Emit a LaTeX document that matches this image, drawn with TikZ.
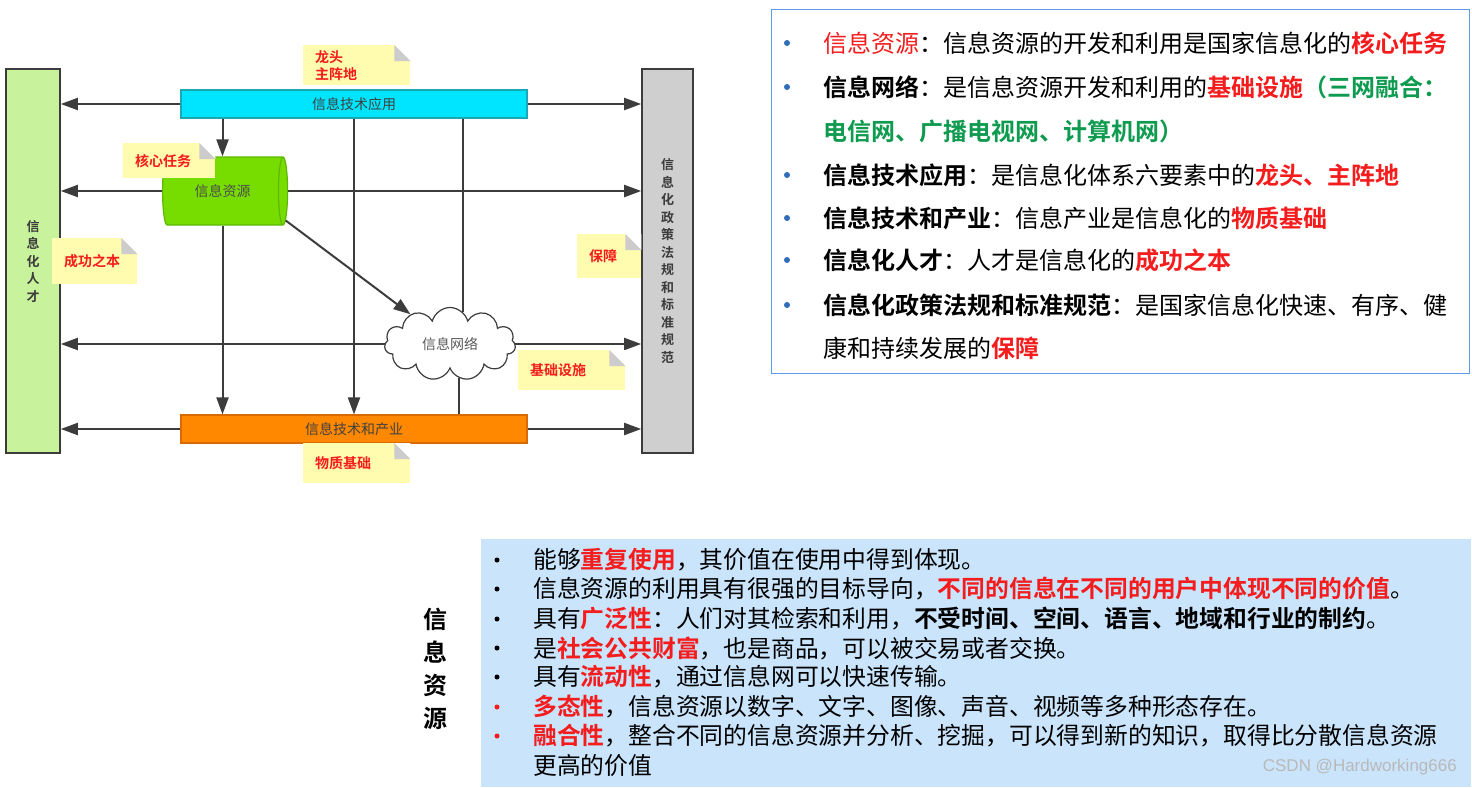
\documentclass[tikz,border=0pt]{standalone}
\usepackage{fontspec}
\setmainfont{Noto Sans CJK SC}[BoldFont={Noto Sans CJK SC Bold}]
\newfontfamily\wmfont{Liberation Sans}
\usetikzlibrary{shapes.geometric,shapes.symbols,arrows.meta,positioning}
\definecolor{barcyan}{HTML}{00E5FF}
\definecolor{cyanedge}{HTML}{1AA7B8}
\definecolor{barorange}{HTML}{FF8800}
\definecolor{orangeedge}{HTML}{D96A00}
\definecolor{talentgreen}{HTML}{C8F29C}
\definecolor{policygray}{HTML}{CFCFCF}
\definecolor{cylgreen}{HTML}{77DD00}
\definecolor{cyledge}{HTML}{5DB800}
\definecolor{noteyellow}{HTML}{FFFBAF}
\definecolor{foldgray}{HTML}{CCCCCC}
\definecolor{linegray}{HTML}{3C3C3C}
\definecolor{hired}{HTML}{F41C1C}
\definecolor{higreen}{HTML}{0E9B4F}
\definecolor{bulletblue}{HTML}{2E6DB8}
\definecolor{boxedge}{HTML}{5B9BE8}
\definecolor{boxblue}{HTML}{C9E4FB}
\newcommand{\redkey}[1]{\textcolor{hired}{\bfseries #1}}
\newcommand{\greenkey}[1]{\textcolor{higreen}{\bfseries #1}}

\begin{document}
\begin{tikzpicture}[x=1pt, y=-1pt,
  vbar/.style={draw=linegray, line width=1.6pt, minimum width=54pt, minimum height=384pt, inner sep=0pt, font=\fontsize{13}{17.5}\selectfont\bfseries, text=linegray, align=center},
  hbar/.style={line width=1.2pt, minimum width=346pt, minimum height=28pt, inner sep=0pt, font=\fontsize{14}{16}\selectfont, text=black!75},
  link/.style={draw=linegray, line width=2pt},
  arr/.style={link, -{Triangle[length=17pt, width=12pt]}},
  note/.style={fill=noteyellow, anchor=north west, inner xsep=12pt, inner ysep=2pt, align=left, text=hired, font=\fontsize{14}{17}\selectfont\bfseries},
  item/.style={anchor=west, inner sep=0pt, font=\fontsize{24}{28}\selectfont},
  feat/.style={anchor=west, inner sep=0pt, font=\fontsize{23.8}{28}\selectfont},
  dot/.style={circle, fill, inner sep=0pt, minimum size=5pt},
]
  \useasboundingbox (0,0) rectangle (1472,787);

  % Side bars
  \node[vbar, fill=talentgreen] (talent) at (33,261) {信\\息\\化\\人\\才};
  \node[vbar, fill=policygray, minimum width=51pt] (policy) at (667.5,261) {信\\息\\化\\政\\策\\法\\规\\和\\标\\准\\规\\范};

  % Middle blocks
  \node[hbar, fill=barcyan, draw=cyanedge] (app) at (354,104) {信息技术应用};
  \node[hbar, fill=barorange, draw=orangeedge] (ind) at (354,429) {信息技术和产业};
  \node[cylinder, draw=cyledge, line width=1.2pt, fill=cylgreen, minimum width=68pt, minimum height=125pt, shape aspect=0.7, inner sep=0pt, font=\fontsize{14}{16}\selectfont, text=black!70] (res) at (222.5,191) {信息资源};
  \node[cloud, draw=linegray, line width=1.2pt, fill=white, cloud puffs=11, aspect=1.8, minimum width=131pt, minimum height=73pt, inner sep=0pt, font=\fontsize{14}{16}\selectfont, text=black!65] (net) at (450,344) {信息网络};

  % Arrows to the talent bar
  \draw[arr] (app.west) -- (app.west -| talent.east);
  \draw[arr] (res.west) -- (res.west -| talent.east);
  \draw[arr] (net.west) -- (net.west -| talent.east);
  \draw[arr] (ind.west) -- (ind.west -| talent.east);

  % Arrows to the policy bar
  \draw[arr] (app.east) -- (app.east -| policy.west);
  \draw[arr] (res.east) -- (res.east -| policy.west);
  \draw[arr] (net.east) -- (net.east -| policy.west);
  \draw[arr] (ind.east) -- (ind.east -| policy.west);

  % Inner links
  \draw[arr] (app.south -| res.north) -- (res.north);
  \draw[arr] (res.south) -- (res.south |- ind.north);
  \draw[arr] (app.south) -- (ind.north);
  \draw[arr] (res.-25) -- (net);
  \draw[link] (app.south -| net.68) -- (net.68);
  \draw[link] (net.-75) -- (net.-75 |- ind.north);

  % Notes
  \node[note, text width=83pt, minimum height=40pt] (nHead) at (303,45) {龙头\\主阵地};
  \node[note, text width=68pt, minimum height=35pt] (nCore) at (123,143) {核心任务};
  \node[note, text width=61pt, minimum height=46pt] (nTalent) at (52,238) {成功之本};
  \node[note, text width=40pt, minimum height=44pt] (nGuard) at (577,234) {保障};
  \node[note, text width=83pt, minimum height=40pt] (nInfra) at (518,350) {基础设施};
  \node[note, text width=83pt, minimum height=40pt] (nMatter) at (303,443) {物质基础};
  \foreach \n in {nHead,nCore,nTalent,nGuard,nInfra,nMatter} {
    \fill[white] (\n.north east) -- +(-16,0) -- +(0,16) -- cycle;
    \fill[foldgray] (\n.north east) ++(-16,0) -- +(0,16) -- +(16,16) -- cycle;
  }

  % Key box
  \node[draw=boxedge, line width=1.4pt, minimum width=698pt, minimum height=364pt, anchor=north west, inner sep=0pt] (keybox) at (771,9) {};
  \foreach \y in {43,87,175,218,260,305}
    \node[dot, fill=bulletblue, minimum size=6pt] at (787,\y) {};
  \node[item] (k1) at (823,43) {\textcolor{hired}{信息资源}：信息资源的开发和利用是国家信息化的\redkey{核心任务}};
  \node[item] (k2) at (823,87) {\textbf{信息网络}：是信息资源开发和利用的\redkey{基础设施}\greenkey{（三网融合：}};
  \node[item] (k3) at (823,131) {\greenkey{电信网、广播电视网、计算机网）}};
  \node[item] (k4) at (823,175) {\textbf{信息技术应用}：是信息化体系六要素中的\redkey{龙头、主阵地}};
  \node[item] (k5) at (823,218) {\textbf{信息技术和产业}：信息产业是信息化的\redkey{物质基础}};
  \node[item] (k6) at (823,260) {\textbf{信息化人才}：人才是信息化的\redkey{成功之本}};
  \node[item] (k7) at (823,305) {\textbf{信息化政策法规和标准规范}：是国家信息化快速、有序、健};
  \node[item] (k8) at (823,348) {康和持续发展的\redkey{保障}};

  % Feature box
  \node[fill=boxblue, minimum width=990pt, minimum height=248pt, anchor=north west, inner sep=0pt] (featbox) at (481,539) {};
  \node[font=\fontsize{24}{33}\selectfont\bfseries, align=center, inner sep=0pt] (reslabel) at (435,669) {信\\息\\资\\源};
  \foreach \y in {560,589,619,648,677}
    \node[dot, fill=black] at (497,\y) {};
  \foreach \y in {707,736}
    \node[dot, fill=hired] at (497,\y) {};
  \node[feat] (f1) at (533,560) {能够\redkey{重复使用}，其价值在使用中得到体现。};
  \node[feat] (f2) at (533,589) {信息资源的利用具有很强的目标导向，\redkey{不同的信息在不同的用户中体现不同的价值}。};
  \node[feat] (f3) at (533,619) {具有\redkey{广泛性}：人们对其检索和利用，\textbf{不受时间、空间、语言、地域和行业的制约}。};
  \node[feat] (f4) at (533,648) {是\redkey{社会公共财富}，也是商品，可以被交易或者交换。};
  \node[feat] (f5) at (533,677) {具有\redkey{流动性}，通过信息网可以快速传输。};
  \node[feat] (f6) at (533,707) {\redkey{多态性}，信息资源以数字、文字、图像、声音、视频等多种形态存在。};
  \node[feat] (f7) at (533,736) {\redkey{融合性}，整合不同的信息资源并分析、挖掘，可以得到新的知识，取得比分散信息资源};
  \node[feat] (f8) at (533,765) {更高的价值};
  \node[anchor=east, inner sep=0pt, font=\wmfont\fontsize{17}{17}\selectfont, text=gray!55] (wm) at (1457,767) {CSDN @Hardworking666};
\end{tikzpicture}
\end{document}
